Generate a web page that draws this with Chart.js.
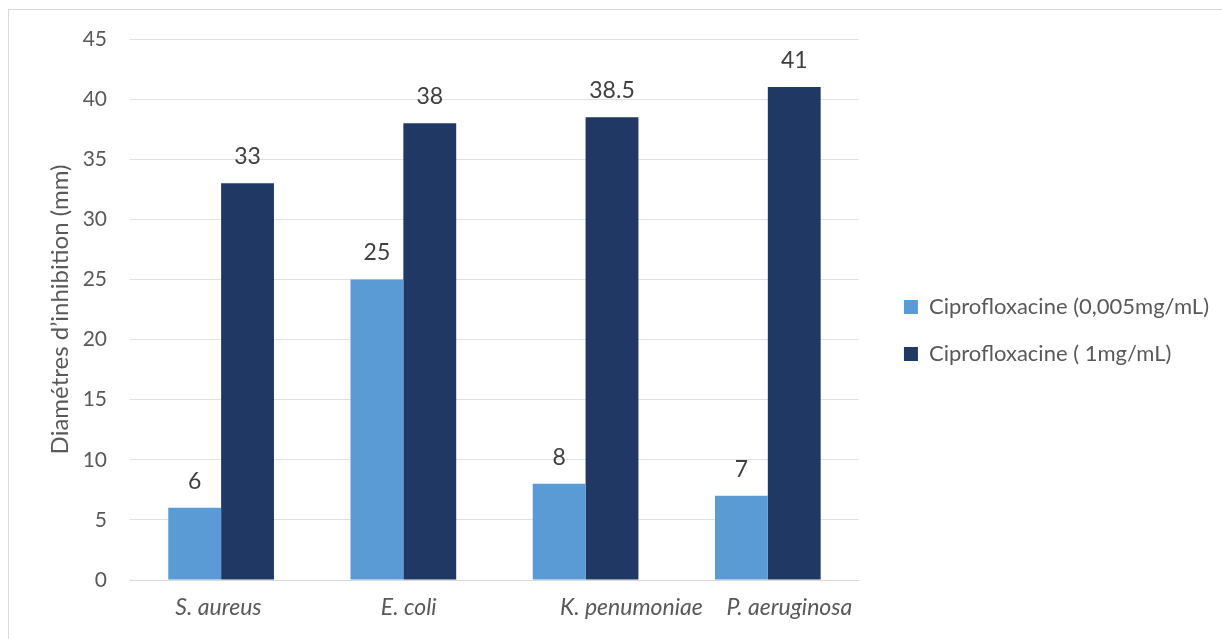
<!DOCTYPE html>
<html>
<head>
<meta charset="utf-8">
<script src="https://cdn.jsdelivr.net/npm/chart.js@4/dist/chart.umd.min.js"></script>
<style>
  html, body { margin: 0; padding: 0; background: #ffffff; }
  #wrap { position: relative; width: 1222px; height: 639px; overflow: hidden; }
  #frame { position: absolute; left: 8px; top: 9px; width: 1400px; height: 800px; border: 1px solid #d9d9d9; box-sizing: border-box; }
  canvas { position: absolute; left: 0; top: 0; }
</style>
</head>
<body>
<div id="wrap">
  <div id="frame"></div>
  <canvas id="chart" width="1222" height="639"></canvas>
</div>
<script>
// Bacterial strains tested
const categories = ['S. aureus', 'E. coli', 'K. penumoniae', 'P. aeruginosa'];
// Inhibition zone diameters (mm) for each ciprofloxacin concentration
const lowDose = [6, 25, 8, 7];
const highDose = [33, 38, 38.5, 41];
const seriesNames = ['Ciprofloxacine (0,005mg/mL)', 'Ciprofloxacine ( 1mg/mL)'];
const yTicks = [0, 5, 10, 15, 20, 25, 30, 35, 40, 45];

const FONT = 'Lato, "Open Sans", "DejaVu Sans", sans-serif';
const X_FONT_SIZE = 23;

// Category captions are nudged sideways (in px) by padding them with spaces
const captionNudge = [-3, 5, 46, 21];
const measureCtx = document.createElement('canvas').getContext('2d');
measureCtx.font = 'italic ' + X_FONT_SIZE + 'px ' + FONT;
const spaceWidth = measureCtx.measureText(' ').width || 4.4;
function paddedCaption(i) {
  const shift = captionNudge[i] || 0;
  const n = Math.round(Math.abs(shift) * 2 / spaceWidth);
  const pad = ' '.repeat(n);
  return shift > 0 ? pad + categories[i] : categories[i] + pad;
}

// Draws each bar's value just above it
const valueLabels = {
  id: 'valueLabels',
  afterDatasetsDraw(chart) {
    const ctx = chart.ctx;
    ctx.save();
    ctx.font = '23px ' + FONT;
    ctx.fillStyle = '#404040';
    ctx.textAlign = 'center';
    ctx.textBaseline = 'alphabetic';
    chart.data.datasets.forEach((ds, i) => {
      chart.getDatasetMeta(i).data.forEach((bar, j) => {
        ctx.fillText(String(ds.data[j]), bar.x, bar.y - 19);
      });
    });
    ctx.restore();
  }
};

new Chart(document.getElementById('chart'), {
  type: 'bar',
  data: {
    labels: categories,
    datasets: [
      { label: seriesNames[0], data: lowDose, backgroundColor: '#5b9bd5' },
      { label: seriesNames[1], data: highDose, backgroundColor: '#1f3864' }
    ]
  },
  options: {
    responsive: false,
    animation: false,
    layout: { padding: { left: 46, right: 3, top: 39, bottom: 17 } },
    datasets: { bar: { categoryPercentage: 0.58, barPercentage: 1.0 } },
    plugins: {
      legend: {
        position: 'right',
        maxWidth: 400,
        labels: {
          font: { family: FONT, size: 22 },
          color: '#595959',
          boxWidth: 14,
          boxHeight: 14,
          padding: 25
        }
      },
      tooltip: { enabled: false }
    },
    scales: {
      x: {
        grid: { display: false, drawTicks: false },
        border: { color: '#d9d9d9' },
        ticks: {
          font: { family: FONT, size: X_FONT_SIZE, style: 'italic' },
          color: '#595959',
          padding: 14,
          autoSkip: false,
          maxRotation: 0,
          minRotation: 0,
          callback: (value, index) => paddedCaption(index)
        },
        afterFit(scale) { scale.height = 42; }
      },
      y: {
        min: 0,
        max: 45,
        afterBuildTicks(scale) { scale.ticks = yTicks.map(v => ({ value: v })); },
        grid: { color: '#e0e0e0', drawTicks: false },
        border: { display: false },
        ticks: {
          font: { family: FONT, size: 21 },
          color: '#595959',
          padding: 23
        },
        title: {
          display: true,
          text: 'Diamétres d’inhibition (mm)',
          font: { family: FONT, size: 24 },
          color: '#595959',
          padding: { top: 0, bottom: 9 }
        },
        afterFit(scale) { scale.width = 84; }
      },
      // empty spacer keeping the legend clear of the plot area
      gap: {
        type: 'linear',
        position: 'right',
        display: true,
        grid: { display: false, drawTicks: false },
        border: { display: false },
        ticks: { display: false },
        afterFit(scale) { scale.width = 20; }
      }
    }
  },
  plugins: [valueLabels]
});
</script>
</body>
</html>
